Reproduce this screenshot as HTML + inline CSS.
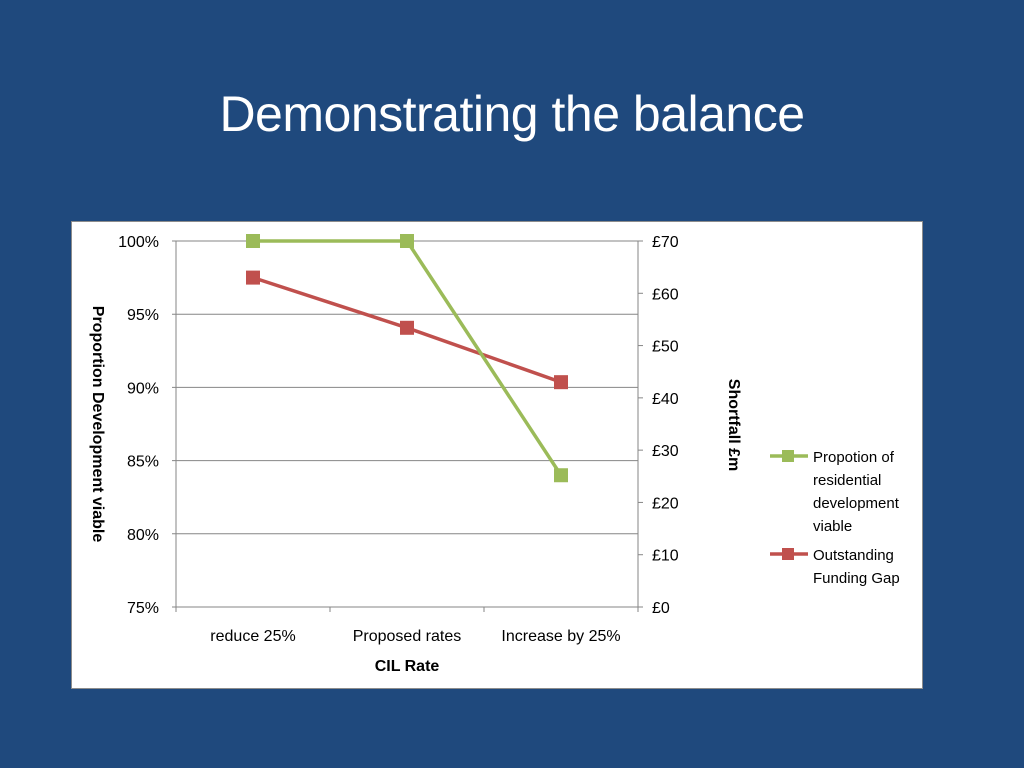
<!DOCTYPE html>
<html><head><meta charset="utf-8"><style>
body{margin:0;width:1024px;height:768px;background:#1F497D;overflow:hidden;font-family:"Liberation Sans",sans-serif}
#title{position:absolute;left:0;width:1024px;top:85px;text-align:center;color:#fff;font-size:50px;letter-spacing:-0.5px}
#chart{position:absolute;left:71px;top:221px}
</style></head><body>
<div id="title">Demonstrating the balance</div>
<svg id="chart" width="853" height="469" font-family="Liberation Sans, sans-serif">
<rect x="0.5" y="0.5" width="851" height="467" fill="#fff" stroke="#8c8c8c"/>
<g id="plot"></g>
</svg>
<script>
const categories=["reduce 25%","Proposed rates","Increase by 25%"];
const viable=[100,100,84];
const gap=[63,53.4,43];
const leftTicks=[75,80,85,90,95,100];
const rightTicks=[0,10,20,30,40,50,60,70];
const OX=71,OY=221;
const px0=176-OX,px1=638-OX,py0=607-OY,py1=241-OY;
const yL=v=>py0-(v-75)/25*(py0-py1);
const yR=v=>py0-v/70*(py0-py1);
const cw=(px1-px0)/categories.length;
const xC=i=>px0+cw*(i+0.5);
const g=document.getElementById('plot');
const NS='http://www.w3.org/2000/svg';
function mk(t,a,txt){const e=document.createElementNS(NS,t);for(const k in a)e.setAttribute(k,a[k]);if(txt!==undefined)e.textContent=txt;g.appendChild(e);return e;}
leftTicks.forEach(v=>{
 const l=mk('line',{x1:px0-4,x2:px1,y1:yL(v),y2:yL(v),stroke:'#868686','stroke-width':1});
 
 const t=mk('text',{x:px0-17,y:yL(v)+6,'text-anchor':'end','font-size':16,fill:'#000'},v+'%');
 
});
rightTicks.forEach(v=>{
 const l=mk('line',{x1:px1,x2:px1+5,y1:yR(v),y2:yR(v),stroke:'#868686'});
 
 const t=mk('text',{x:px1+14,y:yR(v)+6,'font-size':16,fill:'#000'},'£'+v);
 
});
let a=mk('line',{x1:px0,x2:px0,y1:py1,y2:py0,stroke:'#868686'});
a=mk('line',{x1:px1,x2:px1,y1:py1,y2:py0,stroke:'#868686'});
for(let i=0;i<=categories.length;i++){const l=mk('line',{x1:px0+cw*i,x2:px0+cw*i,y1:py0,y2:py0+5,stroke:'#868686'});}
categories.forEach((c,i)=>{const t=mk('text',{x:xC(i),y:py0+34,'text-anchor':'middle','font-size':16},c);});
function series(vals,yf,col,name){
 const p=mk('polyline',{points:vals.map((v,i)=>xC(i)+','+yf(v)).join(' '),fill:'none',stroke:col,'stroke-width':3.5});
 
 vals.forEach((v,i)=>{const r=mk('rect',{x:xC(i)-7,y:yf(v)-7,width:14,height:14,fill:col});});
}
series(gap,yR,'#C0504D','funding-gap');
series(viable,yL,'#9BBB59','viable');
let t=mk('text',{transform:`translate(${93-OX},${424-OY}) rotate(90)`,'text-anchor':'middle','font-size':16,'font-weight':'bold'},'Proportion Development viable');

t=mk('text',{transform:`translate(${729-OX},${425-OY}) rotate(90)`,'text-anchor':'middle','font-size':16,'font-weight':'bold','xml:space':'preserve'},'Shortfall  £m');

t=mk('text',{x:xC(1),y:671-OY,'text-anchor':'middle','font-size':16,'font-weight':'bold'},'CIL Rate');

function legend(y,col,lines,name){
 const l=mk('line',{x1:770-OX,x2:808-OX,y1:y-OY,y2:y-OY,stroke:col,'stroke-width':3.5});
 const r=mk('rect',{x:782-OX,y:y-OY-6,width:12,height:12,fill:col});
 lines.forEach((s,i)=>{const t=mk('text',{x:813-OX,y:y-OY+6+i*23,'font-size':15},s);});
}
legend(456,'#9BBB59',['Propotion of','residential','development','viable'],'viable');
legend(554,'#C0504D',['Outstanding','Funding Gap'],'funding-gap');
</script>
</body></html>
